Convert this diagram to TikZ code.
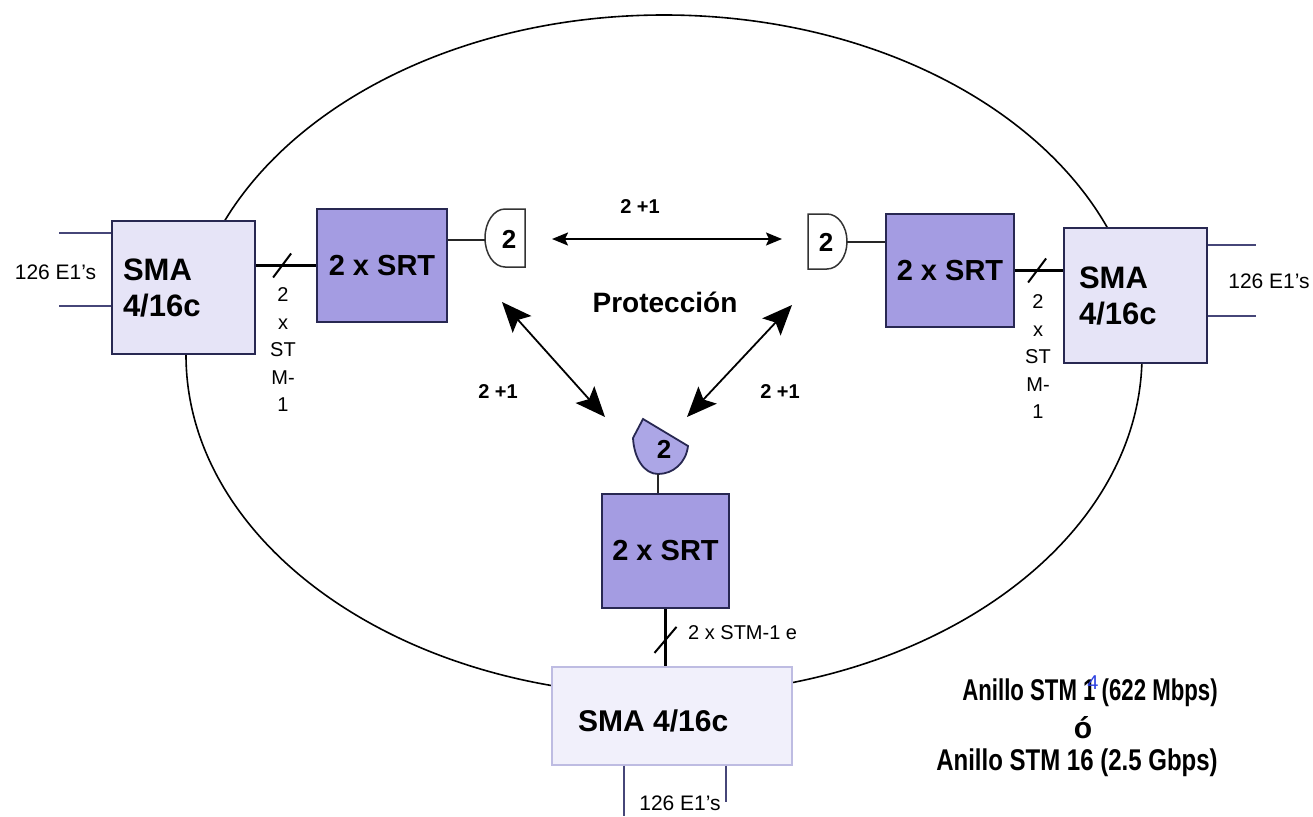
\documentclass[tikz,border=0pt]{standalone}
\usepackage{fontspec}
\setmainfont{Liberation Sans}
\usepackage{graphicx}
\usetikzlibrary{arrows.meta}
\definecolor{srtfill}{RGB}{164,156,226}
\definecolor{smafill}{RGB}{230,228,247}
\definecolor{smabfill}{RGB}{241,240,251}
\definecolor{boxline}{RGB}{40,40,82}
\definecolor{faintline}{RGB}{190,188,226}
\definecolor{antfill}{RGB}{172,166,230}
\definecolor{penblue}{RGB}{45,65,225}
\definecolor{e1line}{RGB}{70,70,120}
\newcommand{\fsz}[2]{\fontsize{#1}{#2}\selectfont}
\begin{document}
\begin{tikzpicture}[x=1pt,y=-1pt,
  smabox/.style={draw=boxline,line width=1.8pt,fill=smafill,inner ysep=0pt,align=left,font=\fsz{31}{36}\bfseries},
  srtbox/.style={draw=boxline,line width=1.8pt,fill=srtfill,inner sep=0pt,font=\fsz{29}{34}\bfseries},
  ring/.style={draw=black,line width=1.6pt},
  thinline/.style={draw=black!85,line width=1.4pt},
  e1wire/.style={draw=e1line,line width=1.4pt},
  trunk/.style={draw=black,line width=3.2pt},
  slashmark/.style={draw=black,line width=2pt},
  antenna/.style={draw=black!80,line width=1.5pt,fill=white},
  antlabel/.style={font=\fsz{26}{30}\bfseries,inner sep=0pt},
  linkarrow/.style={draw=black,line width=1.8pt,{Stealth[length=16pt,width=13pt,inset=3pt]}-{Stealth[length=16pt,width=13pt,inset=3pt]}},
  bigarrow/.style={draw=black,line width=1.8pt,{Stealth[length=30pt,width=25pt,inset=6pt]}-{Stealth[length=30pt,width=25pt,inset=6pt]}},
  plabel/.style={font=\fsz{20}{24}\bfseries,inner sep=0pt},
  e1label/.style={font=\fsz{21}{25},inner sep=0pt},
  stmcol/.style={font=\fsz{20}{27.5},align=center,inner sep=0pt},
  ringlabel/.style={font=\fsz{30}{34}\bfseries,inner sep=0pt},
]
\fill[white] (0,0) rectangle (1313,816);
\useasboundingbox (0,0) rectangle (1313,816);

% ring
\coordinate (ringc) at (664,355);
\draw[ring] (ringc) ellipse [x radius=478, y radius=340];

% boxes
\node[smabox, minimum width=143, minimum height=133, inner xsep=11pt, text width=121pt] (smaL) at (183.5,287.5) {SMA\\4/16c};
\node[smabox, minimum width=143, minimum height=135, inner xsep=15pt, text width=113pt] (smaR) at (1135.5,295.5) {SMA\\4/16c};
\node[srtbox, minimum width=130, minimum height=113] (srtL) at (382,265.5) {2 x SRT};
\node[srtbox, minimum width=128, minimum height=113] (srtR) at (950,270.5) {2 x SRT};
\node[srtbox, minimum width=127, minimum height=114] (srtB) at (665.5,551) {2 x SRT};
\node[draw=faintline, line width=1.4pt, fill=smabfill, minimum width=240, minimum height=98, inner sep=0pt] (smaB) at (672,716) {};
\node[font=\fsz{30}{34}\bfseries, anchor=west, inner sep=0pt] (smaBt) at (578,721) {SMA 4/16c};

% antennas
\draw[antenna] (525,209) -- (505,209) arc[start angle=-90, end angle=-270, x radius=20, y radius=29] -- (525,267) -- cycle;
\node[antlabel] (antL) at (509,239) {2};
\draw[antenna] (808,214) -- (827,214) arc[start angle=-90, end angle=90, x radius=20, y radius=27.5] -- (808,269) -- cycle;
\node[antlabel] (antR) at (826,242) {2};
\draw[antenna, fill=antfill, draw=boxline, line width=1.8pt] (643,419) -- (688,446) .. controls (686,463) and (673,474) .. (658,474) .. controls (644,474) and (634,458) .. (633,438) -- cycle;
\node[antlabel] (antB) at (664,449) {2};

% antenna feeders
\coordinate (antLedge) at (485,240);
\draw[thinline] (srtL.east |- antLedge) -- (antLedge);
\coordinate (antRedge) at (847,242);
\draw[thinline] (antRedge) -- (antRedge -| srtR.west);
\coordinate (antBstem) at (658,474);
\draw[thinline, line width=1.8pt] (antBstem) -- (antBstem |- srtB.north);

% trunks with slash marks
\draw[trunk] (smaL.east |- srtL.west) -- coordinate[pos=0.435] (slL) (srtL.west);
\draw[slashmark] (slL) ++(-9,12) -- ++(18,-24);
\draw[trunk] (srtR.east) -- coordinate[pos=0.46] (slR) (srtR.east -| smaR.west);
\draw[slashmark] (slR) ++(-9,12) -- ++(18,-24);
\draw[trunk] (srtB.south) -- coordinate[pos=0.54] (slB) (srtB.south |- smaB.north);
\draw[slashmark] (slB) ++(-11,13) -- ++(22,-26);

\node[stmcol] (stmL) at (283,350) {2\\x\\ST\\M-\\1};
\node[stmcol] (stmR) at (1038,357) {2\\x\\ST\\M-\\1};
\node[e1label, font=\fsz{20}{24}, anchor=west] (stmB) at (688,633) {2 x STM-1 e};

% E1 tributaries
\coordinate (e1La) at (59,233);
\coordinate (e1Lb) at (59,306);
\draw[e1wire] (e1La) -- (e1La -| smaL.west);
\draw[e1wire] (e1Lb) -- (e1Lb -| smaL.west);
\node[e1label] (e1Lt) at (55.5,272) {126 E1's};
\coordinate (e1Ra) at (1256,245);
\coordinate (e1Rb) at (1256,316);
\draw[e1wire] (smaR.east |- e1Ra) -- (e1Ra);
\draw[e1wire] (smaR.east |- e1Rb) -- (e1Rb);
\node[e1label] (e1Rt) at (1269,281) {126 E1's};
\coordinate (e1Ba) at (624,816);
\coordinate (e1Bb) at (726,802);
\draw[e1wire] (e1Ba |- smaB.south) -- (e1Ba);
\draw[e1wire] (e1Bb |- smaB.south) -- (e1Bb);
\node[e1label] (e1Bt) at (680,803) {126 E1's};

% radio links
\coordinate (hA) at (552,239);
\coordinate (hB) at (782,239);
\draw[linkarrow] (hA) -- (hB);
\coordinate (dLa) at (502,302);
\coordinate (dLb) at (605,417);
\draw[bigarrow] (dLa) -- (dLb);
\coordinate (dRa) at (792,305);
\coordinate (dRb) at (687,417);
\draw[bigarrow] (dRa) -- (dRb);

\node[plabel] (lblTop) at (640,207) {2 +1};
\node[plabel] (lblL) at (498,392) {2 +1};
\node[plabel] (lblR) at (780,392) {2 +1};
\node[font=\fsz{28}{32}\bfseries, inner sep=0pt] (prot) at (665,302) {Protección};

% ring description
\node[ringlabel] (ring1) at (1090,693) {\scalebox{0.74}[1]{Anillo STM 1 (622 Mbps)}};
\node[ringlabel] (ringo) at (1083,728) {ó};
\node[ringlabel] (ring2) at (1077,763) {\scalebox{0.8}[1]{Anillo STM 16 (2.5 Gbps)}};
\node[font=\fsz{20}{22}, text=penblue, inner sep=0pt] (pen4) at (1093,683) {4};
\end{tikzpicture}
\end{document}
